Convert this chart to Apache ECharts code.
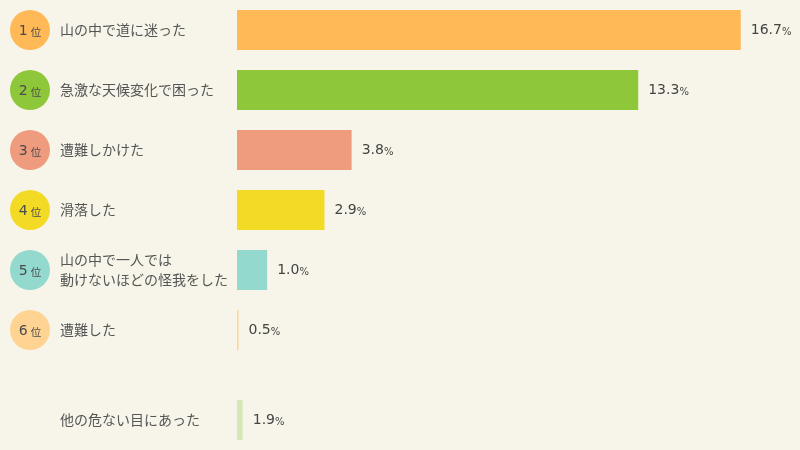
<!DOCTYPE html>
<html>
<head>
<meta charset="utf-8">
<script src="https://cdn.jsdelivr.net/npm/echarts@6/dist/echarts.min.js"></script>
<style>
html,body{margin:0;padding:0;background:#f7f5e9;}
#chart{width:800px;height:450px;}
</style>
</head>
<body>
<div id="chart"></div>
<script>
// ---- data ----
const categories = ['山の中で道に迷った', '急激な天候変化で困った', '遭難しかけた', '滑落した', '山の中で一人では\n動けないほどの怪我をした', '遭難した'];
const ranks = ['1', '2', '3', '4', '5', '6'];
const percentLabels = ['16.7', '13.3', '3.8', '2.9', '1.0', '0.5'];
// bar lengths as drawn in the original picture (the 0.5% bar is drawn much shorter)
const barLengths = [16.7, 13.3, 3.8, 2.9, 1.0, 0.05];
const otherCategory = ['他の危ない目にあった'];
const otherLabels = ['1.9'];
const otherBarLengths = [0.19];
const colors = ['#ffb957', '#8fc73a', '#ee9b7e', '#f3da24', '#93d9cd', '#ffd493'];
const otherColor = '#d6e8b5';

// ---- chart ----
const chart = echarts.init(document.getElementById('chart'), null, {renderer: 'canvas'});
const textColor = '#555';
const circleRich = {};
colors.forEach((c, i) => {
  circleRich['c' + i] = {width: 40, height: 40, borderRadius: 20, backgroundColor: c};
});
const valueLabel = (labels) => ({
  show: true,
  position: 'right',
  distance: 10,
  formatter: (p) => '{v|' + labels[p.dataIndex] + '}{p|%}',
  rich: {
    v: {fontFamily: 'DejaVu Sans', fontSize: 14, color: '#444', padding: [1, 0, 0, 0]},
    p: {fontFamily: 'DejaVu Sans', fontSize: 10, color: '#444', padding: [4, 0, 0, 0]}
  }
});

const option = {
  backgroundColor: '#f7f5e9',
  animation: false,
  grid: [
    {left: 237, top: 0, height: 360, width: 543},
    {left: 237, top: 390, height: 60, width: 543}
  ],
  xAxis: [
    {gridIndex: 0, type: 'value', min: 0, max: 18, show: false},
    {gridIndex: 1, type: 'value', min: 0, max: 18, show: false}
  ],
  yAxis: [
    { // rank circles
      gridIndex: 0, type: 'category', data: categories, inverse: true, position: 'left', z: 0,
      axisLine: {show: false}, axisTick: {show: false}, splitLine: {show: false},
      axisLabel: {interval: 0, align: 'center', margin: 207, formatter: (v, i) => '{c' + i + '| }', rich: circleRich}
    },
    { // rank text
      gridIndex: 0, type: 'category', data: categories, inverse: true, position: 'left', z: 1,
      axisLine: {show: false}, axisTick: {show: false}, splitLine: {show: false},
      axisLabel: {interval: 0, align: 'center', margin: 207,
        formatter: (v, i) => '{n|' + ranks[i] + '}{w|位}',
        rich: {
          n: {fontFamily: 'DejaVu Sans', fontSize: 14, color: '#4a4a4a', padding: [2, 0, 0, 0]},
          w: {fontFamily: 'Noto Sans CJK JP', fontSize: 10.5, color: '#4a4a4a', padding: [5, 0, 0, 3]}
        }
      }
    },
    { // names
      gridIndex: 0, type: 'category', data: categories, inverse: true, position: 'left', z: 1,
      axisLine: {show: false}, axisTick: {show: false}, splitLine: {show: false},
      axisLabel: {interval: 0, align: 'left', margin: 177, fontFamily: 'Noto Sans CJK JP', fontSize: 14, lineHeight: 20, color: textColor}
    },
    { // other name
      gridIndex: 1, type: 'category', data: otherCategory, inverse: true, position: 'left',
      axisLine: {show: false}, axisTick: {show: false}, splitLine: {show: false},
      axisLabel: {interval: 0, align: 'left', margin: 177, fontFamily: 'Noto Sans CJK JP', fontSize: 14, lineHeight: 20, color: textColor}
    }
  ],
  series: [
    {
      type: 'bar', xAxisIndex: 0, yAxisIndex: 0, barWidth: 40,
      data: barLengths,
      itemStyle: {color: (p) => colors[p.dataIndex]},
      label: valueLabel(percentLabels)
    },
    {
      type: 'bar', xAxisIndex: 1, yAxisIndex: 3, barWidth: 40,
      data: otherBarLengths,
      itemStyle: {color: otherColor},
      label: valueLabel(otherLabels)
    }
  ]
};
chart.setOption(option);
</script>
</body>
</html>
